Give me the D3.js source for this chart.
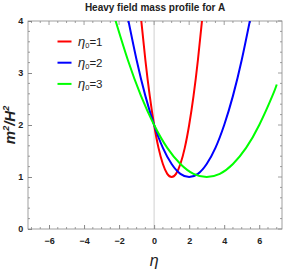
<!DOCTYPE html>
<html lang="en">
<head>
    <meta charset="UTF-8">
    <title>Heavy field mass profile for A</title>
    <script src="https://d3js.org/d3.v7.min.js"></script>
    <style>
        body { margin: 0; background: #fff; }
        svg { display: block; font-family: "Liberation Sans", Arial, sans-serif; }
        .tick-label { font-size: 9px; font-weight: bold; fill: #222; }
    </style>
</head>
<body>
    <svg width="284" height="273"></svg>

    <script>
        // values
        const seriesNames = ["1", "2", "3"];
        const seriesColors = ["#ff0000", "#0000ff", "#00ff00"];

        const etaRed = [-0.75, -0.5, -0.25, 0, 0.25, 0.5, 0.75, 1, 1.25, 1.5, 1.75, 2, 2.25, 2.5, 2.75];
        const massRed = [4.06, 3.25, 2.56, 2, 1.56, 1.25, 1.06, 1, 1.06, 1.25, 1.56, 2, 2.56, 3.25, 4.06];

        const etaBlue = [-1.5, -1, -0.5, 0, 0.5, 1, 1.5, 2, 2.5, 3, 3.5, 4, 4.5, 5, 5.5];
        const massBlue = [4.06, 3.25, 2.56, 2, 1.56, 1.25, 1.06, 1, 1.06, 1.25, 1.56, 2, 2.56, 3.25, 4.06];

        const etaGreen = [-2.25, -1.5, -0.75, 0, 0.75, 1.5, 2.25, 3, 3.75, 4.5, 5.25, 6, 6.75, 7];
        const massGreen = [4.06, 3.25, 2.56, 2, 1.56, 1.25, 1.06, 1, 1.06, 1.25, 1.56, 2, 2.56, 2.78];

        const xTicks = [-6, -4, -2, 0, 2, 4, 6];
        const yTicks = [0, 1, 2, 3, 4];

        const series = [
            { eta: etaRed, m: massRed },
            { eta: etaBlue, m: massBlue },
            { eta: etaGreen, m: massGreen }
        ];

        const svg = d3.select("svg");
        const pL = 28, pR = 282, pT = 21, pB = 229;

        const x = d3.scaleLinear().domain([-7.2, 7.3]).range([pL, pR]);
        const y = d3.scaleLinear().domain([0, 4]).range([pB, pT]);

        // title
        svg.append("text")
            .attr("x", 155).attr("y", 11)
            .attr("text-anchor", "middle")
            .attr("font-size", 10).attr("font-weight", "bold").attr("fill", "#222")
            .text("Heavy field mass profile for A");

        svg.append("defs").append("clipPath").attr("id", "clip")
            .append("rect")
            .attr("x", pL).attr("y", pT)
            .attr("width", pR - pL).attr("height", pB - pT);

        // axis line at eta = 0
        svg.append("line")
            .attr("x1", x(0)).attr("x2", x(0))
            .attr("y1", pT).attr("y2", pB)
            .attr("stroke", "#d8d8d8").attr("stroke-width", 1.2);

        // frame with inward ticks on all sides
        const xMinor = d3.range(-7, 7.01, 0.5);
        const yMinor = d3.range(0, 4.01, 0.2);
        const tickCol = "#888";

        const bottomAxis = d3.axisBottom(x).tickValues(xTicks).tickSize(-4).tickFormat(d => d < 0 ? "\u2212" + (-d) : d);
        const gx = svg.append("g").attr("transform", `translate(0,${pB})`).call(bottomAxis);
        gx.selectAll("text").attr("class", "tick-label").attr("dy", "1.35em");
        gx.select(".domain").remove();

        const leftAxis = d3.axisLeft(y).tickValues(yTicks).tickSize(-4).tickFormat(d3.format("d"));
        const gy = svg.append("g").attr("transform", `translate(${pL},0)`).call(leftAxis);
        gy.selectAll("text").attr("class", "tick-label").attr("dx", "-0.2em");
        gy.select(".domain").remove();

        [gx, gy].forEach(g => g.selectAll(".tick line").attr("stroke", tickCol));

        const ticksG = svg.append("g").attr("stroke", tickCol).attr("stroke-width", 0.8);
        xTicks.forEach(v => {
            ticksG.append("line").attr("x1", x(v)).attr("x2", x(v)).attr("y1", pT).attr("y2", pT + 4);
        });
        yTicks.forEach(v => {
            ticksG.append("line").attr("x1", pR).attr("x2", pR - 4).attr("y1", y(v)).attr("y2", y(v));
        });
        xMinor.filter(v => !xTicks.includes(v)).forEach(v => {
            ticksG.append("line").attr("x1", x(v)).attr("x2", x(v)).attr("y1", pB).attr("y2", pB - 2);
            ticksG.append("line").attr("x1", x(v)).attr("x2", x(v)).attr("y1", pT).attr("y2", pT + 2);
        });
        yMinor.filter(v => !yTicks.some(t => Math.abs(t - v) < 1e-6)).forEach(v => {
            ticksG.append("line").attr("x1", pL).attr("x2", pL + 2).attr("y1", y(v)).attr("y2", y(v));
            ticksG.append("line").attr("x1", pR).attr("x2", pR - 2).attr("y1", y(v)).attr("y2", y(v));
        });

        svg.append("rect")
            .attr("x", pL).attr("y", pT)
            .attr("width", pR - pL).attr("height", pB - pT)
            .attr("fill", "none").attr("stroke", tickCol).attr("stroke-width", 0.8);

        // curves
        const line = d3.line()
            .x(d => x(d[0])).y(d => y(d[1]))
            .curve(d3.curveNatural);

        svg.append("g").attr("clip-path", "url(#clip)")
            .selectAll("path")
            .data(series)
            .enter().append("path")
            .attr("d", s => line(s.eta.map((e, i) => [e, s.m[i]])))
            .attr("fill", "none")
            .attr("stroke", (s, i) => seriesColors[i])
            .attr("stroke-width", 2);

        // legend
        const legend = svg.append("g");
        seriesNames.forEach((name, i) => {
            const ly = 41.5 + i * 21.2;
            legend.append("line")
                .attr("x1", 57.5).attr("x2", 71.5)
                .attr("y1", ly).attr("y2", ly)
                .attr("stroke", seriesColors[i]).attr("stroke-width", 2);
            const t = legend.append("text")
                .attr("x", 78).attr("y", ly + 4)
                .attr("font-size", 11.5).attr("fill", "#222");
            t.append("tspan").attr("font-style", "italic").attr("font-size", 13).text("\u03b7");
            t.append("tspan").attr("font-size", 7.5).attr("dy", 2.5).text("0");
            t.append("tspan").attr("dy", -2.5).text("=" + name);
        });

        // axis labels
        svg.append("text")
            .attr("x", x(0)).attr("y", 266)
            .attr("text-anchor", "middle")
            .attr("font-size", 16).attr("font-style", "italic").attr("fill", "#222")
            .text("\u03b7");

        const yl = svg.append("text")
            .attr("transform", "translate(15,125) rotate(-90)")
            .attr("text-anchor", "middle")
            .attr("font-size", 15).attr("font-style", "italic").attr("font-weight", "bold").attr("fill", "#222");
        yl.append("tspan").text("m");
        yl.append("tspan").attr("font-size", 9).attr("dy", -6).text("2");
        yl.append("tspan").attr("dy", 6).text("/H");
        yl.append("tspan").attr("font-size", 9).attr("dy", -6).text("2");
    </script>
</body>
</html>
